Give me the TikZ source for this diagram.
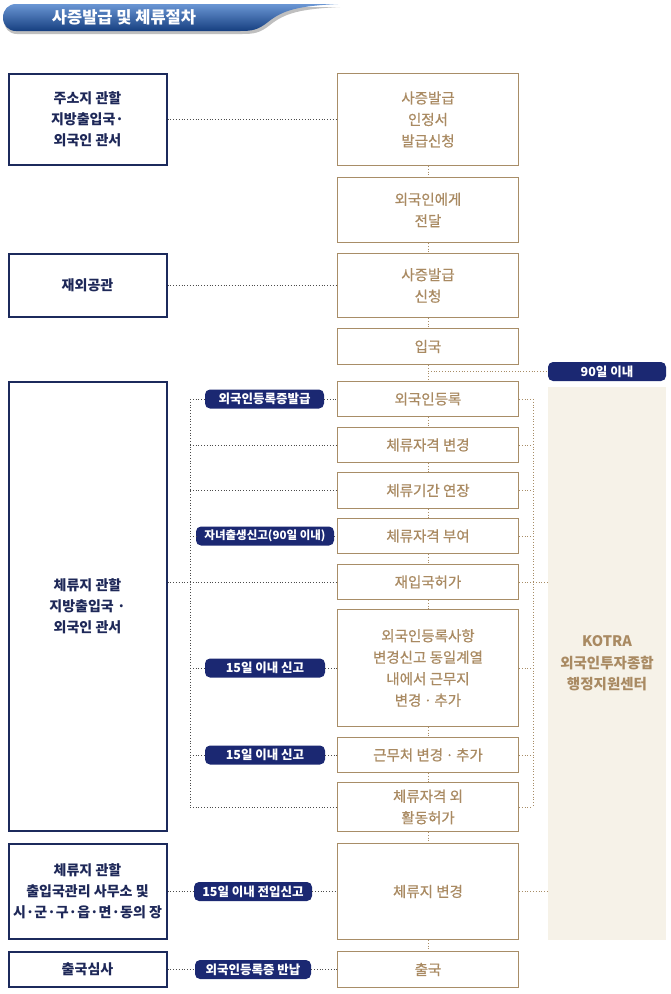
\documentclass[tikz,border=0pt]{standalone}
\usepackage{fontspec}
\setmainfont{Noto Sans CJK KR}
\newfontfamily\medfont{Noto Sans CJK KR}[FakeBold=0.7]
\definecolor{navy}{HTML}{1C2A5C}
\definecolor{navytext}{HTML}{1E2858}
\definecolor{pillblue}{HTML}{1B2872}
\definecolor{tanline}{HTML}{A88D67}
\definecolor{tantext}{HTML}{A98A62}
\definecolor{panel}{HTML}{F6F2E8}
\definecolor{hdtop}{HTML}{6A96D4}
\definecolor{hdbot}{HTML}{163F80}

\begin{document}
\begin{tikzpicture}[x=1pt, y=-1pt,
    leftbox/.style={draw=navy, line width=2pt, text=navytext, minimum width=158pt,
      align=center, inner sep=0pt, font=\fontsize{14}{21}\selectfont\bfseries},
    midbox/.style={draw=tanline, line width=1.1pt, text=tantext, minimum width=181pt,
      align=center, inner sep=0pt, font=\fontsize{14.5}{21.5}\selectfont\medfont},
    pill/.style={fill=pillblue, rounded corners=5pt, text=white, minimum height=19pt,
      inner sep=0pt, font=\fontsize{12.5}{13}\selectfont\bfseries},
    link/.style={dotted, line width=0.8pt, black!70},
    tanlink/.style={dotted, line width=0.8pt, tanline}
   ]
    \useasboundingbox (0,0) rectangle (670,994);
    % title tab
    \fill[black!25] (17,7) -- (340,7) .. controls (300,9) and (285,13) .. (270,25)
      .. controls (260,33) and (254,34) .. (242,34) -- (17,34)
      .. controls (9,34) and (4,28) .. (4,20.5) .. controls (4,13) and (9,7) .. (17,7);
    \shade[top color=hdtop, bottom color=hdbot] (16,4) -- (338,4)
      .. controls (298,6) and (283,10) .. (268,22)
      .. controls (258,30) and (252,31) .. (240,31) -- (16,31)
      .. controls (8,31) and (3,25) .. (3,17.5) .. controls (3,10) and (8,4) .. (16,4);
    \node[text=white, font=\fontsize{16.5}{18}\selectfont\bfseries] (title) at (124,17.5) {사증발급 및 체류절차};

    % offices
    \node[leftbox, minimum height=91pt] (l1) at (87.5,119.5) {주소지 관할\\지방출입국·\\외국인 관서};
    \node[leftbox, minimum height=63pt] (l2) at (87.5,285.5) {재외공관};
    \node[leftbox, minimum height=449pt] (l3) at (87.5,606.5) {체류지 관할\\지방출입국 ·\\외국인 관서};
    \node[leftbox, minimum height=95pt] (l4) at (87.5,891.5) {체류지 관할\\출입국관리 사무소 및\\시·군·구·읍·면·동의 장};
    \node[leftbox, minimum height=35pt] (l5) at (87.5,969.5) {출국심사};

    % steps
    \node[midbox, minimum height=92pt] (m1) at (428,119.5) {사증발급\\인정서\\발급신청};
    \node[midbox, minimum height=65pt] (m2) at (428,210) {외국인에게\\전달};
    \node[midbox, minimum height=64pt] (m3) at (428,285.5) {사증발급\\신청};
    \node[midbox, minimum height=36pt] (m4) at (428,346.5) {입국};
    \node[midbox, minimum height=35pt] (m5) at (428,399) {외국인등록};
    \node[midbox, minimum height=35pt] (m6) at (428,445) {체류자격 변경};
    \node[midbox, minimum height=36pt] (m7) at (428,490.5) {체류기간 연장};
    \node[midbox, minimum height=35pt] (m8) at (428,536) {체류자격 부여};
    \node[midbox, minimum height=35pt] (m9) at (428,582) {재입국허가};
    \node[midbox, minimum height=117pt] (m10) at (428,668) {외국인등록사항\\변경신고 동일계열\\내에서 근무지\\변경\,·\,추가};
    \node[midbox, minimum height=35pt] (m11) at (428,755) {근무처 변경\,·\,추가};
    \node[midbox, minimum height=49pt] (m12) at (428,807) {체류자격 외\\활동허가};
    \node[midbox, minimum height=96pt] (m13) at (428,891.5) {체류지 변경};
    \node[midbox, minimum height=36pt] (m14) at (428,969.5) {출국};

    % KOTRA
    \node[fill=panel, minimum width=118pt, minimum height=553pt, inner sep=0pt, align=center,
      text=tantext, font=\fontsize{14.5}{21.5}\selectfont\bfseries] (kotra) at (607,663.5)
      {KOTRA\\외국인투자종합\\행정지원센터};
    \node[pill, minimum width=118pt] (d90) at (607,371.5) {90일 이내};

    % labels
    \node[pill, minimum width=119pt] (p1) at (264.5,399) {외국인등록증발급};
    \node[pill, minimum width=138pt, font=\fontsize{11.5}{13}\selectfont\bfseries] (p2) at (265,536) {자녀출생신고(90일 이내)};
    \node[pill, minimum width=120pt] (p3) at (265,668) {15일 이내 신고};
    \node[pill, minimum width=120pt] (p4) at (265,755) {15일 이내 신고};
    \node[pill, minimum width=118pt] (p5) at (253,891.5) {15일 이내 전입신고};
    \node[pill, minimum width=116pt] (p6) at (253,969.5) {외국인등록증 반납};

    \coordinate (lbtop) at (190,399);
    \coordinate (lbbot) at (190,807);
    \coordinate (rbtop) at (533,399);
    \coordinate (rbbot) at (533,807);

    % links
    \foreach \a/\b in {m1/m2,m2/m3,m3/m4,m4/m5,m5/m6,m6/m7,m7/m8,m8/m9,m9/m10,m10/m11,m11/m12,m12/m13,m13/m14}
      \draw[tanlink] (\a.south) -- (\b.north);
    \draw[tanlink] (m4.south |- d90) -- (d90);
    \draw[link] (l1) -- (m1);
    \draw[link] (l2) -- (m3);
    \draw[link] (l3.east |- m9) -- (m9);
    \draw[link] (lbtop) -- (lbbot);
    \draw[link] (lbtop) -- (p1) -- (m5);
    \draw[link] (m6 -| lbtop) -- (m6);
    \draw[link] (m7 -| lbtop) -- (m7);
    \draw[link] (m8 -| lbtop) -- (p2) -- (m8);
    \draw[link] (m10 -| lbtop) -- (p3) -- (m10);
    \draw[link] (m11 -| lbtop) -- (p4) -- (m11);
    \draw[link] (lbbot) -- (m12);
    \draw[link] (l4) -- (p5) -- (m13);
    \draw[link] (l5) -- (p6) -- (m14);
    \draw[tanlink] (rbtop) -- (rbbot);
    \foreach \m in {m5,m6,m7,m8,m10,m11,m12}
      \draw[tanlink] (\m.east) -- (\m.east -| rbtop);
    \draw[tanlink] (m9) -- (m9 -| kotra.west);
    \draw[tanlink] (m13) -- (m13 -| kotra.west);
  \end{tikzpicture}
\end{document}
